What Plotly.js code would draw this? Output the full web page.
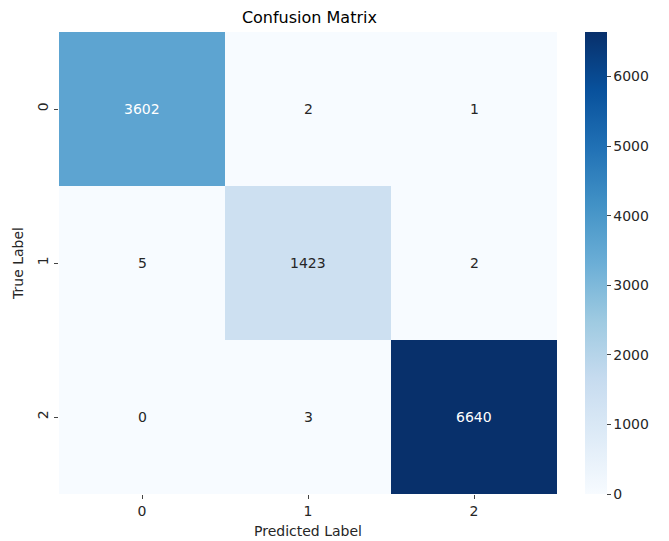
<!DOCTYPE html>
<html>
<head>
<meta charset="utf-8">
<script src="https://cdn.plot.ly/plotly-3.0.1.min.js"></script>
<style>html,body{margin:0;padding:0;background:#fff;}#chart{width:669px;height:541px;}</style>
</head>
<body>
<div id="chart"></div>
<script>
const predictedLabels = ["0", "1", "2"];
const trueLabels = ["0", "1", "2"];
const counts = [
  [3602, 2, 1],
  [5, 1423, 2],
  [0, 3, 6640]
];
const colorbarTicks = [0, 1000, 2000, 3000, 4000, 5000, 6000];

const blues = [
  [0.0, "#f7fbff"], [0.125, "#deebf7"], [0.25, "#c6dbef"], [0.375, "#9ecae1"],
  [0.5, "#6baed6"], [0.625, "#4292c6"], [0.75, "#2171b5"], [0.875, "#08519c"], [1.0, "#08306b"]
];
const zmax = Math.max(...counts.flat());
const zmin = Math.min(...counts.flat());

const annotations = [];
counts.forEach((row, i) => row.forEach((v, j) => {
  annotations.push({
    x: predictedLabels[j], y: trueLabels[i], text: String(v), showarrow: false,
    font: {family: "DejaVu Sans", size: 14, color: (v - zmin) / (zmax - zmin) > 0.45 ? "#ffffff" : "#262626"}
  });
}));

const font = {family: "DejaVu Sans", size: 14, color: "#262626"};

Plotly.newPlot("chart", [{
  type: "heatmap",
  x: predictedLabels, y: trueLabels, z: counts,
  colorscale: blues, zmin: zmin, zmax: zmax,
  xgap: 0, ygap: 0, hoverinfo: "skip",
  colorbar: {
    x: 1.056, xanchor: "left", xpad: 0, ypad: 0,
    y: 0.5, yanchor: "middle", len: 1, lenmode: "fraction",
    thickness: 22, outlinewidth: 0,
    tickvals: colorbarTicks, ticks: "outside", ticklen: 4, tickwidth: 1, tickcolor: "#444",
    tickfont: font
  }
}], {
  width: 669, height: 541,
  margin: {l: 59, r: 112, t: 32, b: 47, pad: 0},
  paper_bgcolor: "#fff", plot_bgcolor: "#fff",
  font: font,
  title: {text: "Confusion Matrix", font: {family: "DejaVu Sans", size: 16, color: "#000"}, x: 0.4625, xanchor: "center", y: 0.968, yanchor: "middle"},
  xaxis: {
    type: "category", title: {text: "Predicted Label", font: font, standoff: 8},
    ticks: "outside", ticklen: 4, tickcolor: "#444", showgrid: false, zeroline: false, showline: false,
    tickfont: font
  },
  yaxis: {
    type: "category", autorange: "reversed", title: {text: "True Label", font: font, standoff: 8},
    ticks: "outside", ticklen: 4, tickcolor: "#444", showgrid: false, zeroline: false, showline: false,
    tickangle: -90, tickfont: font
  },
  annotations: annotations
}, {displayModeBar: false, staticPlot: true});
</script>
</body>
</html>
